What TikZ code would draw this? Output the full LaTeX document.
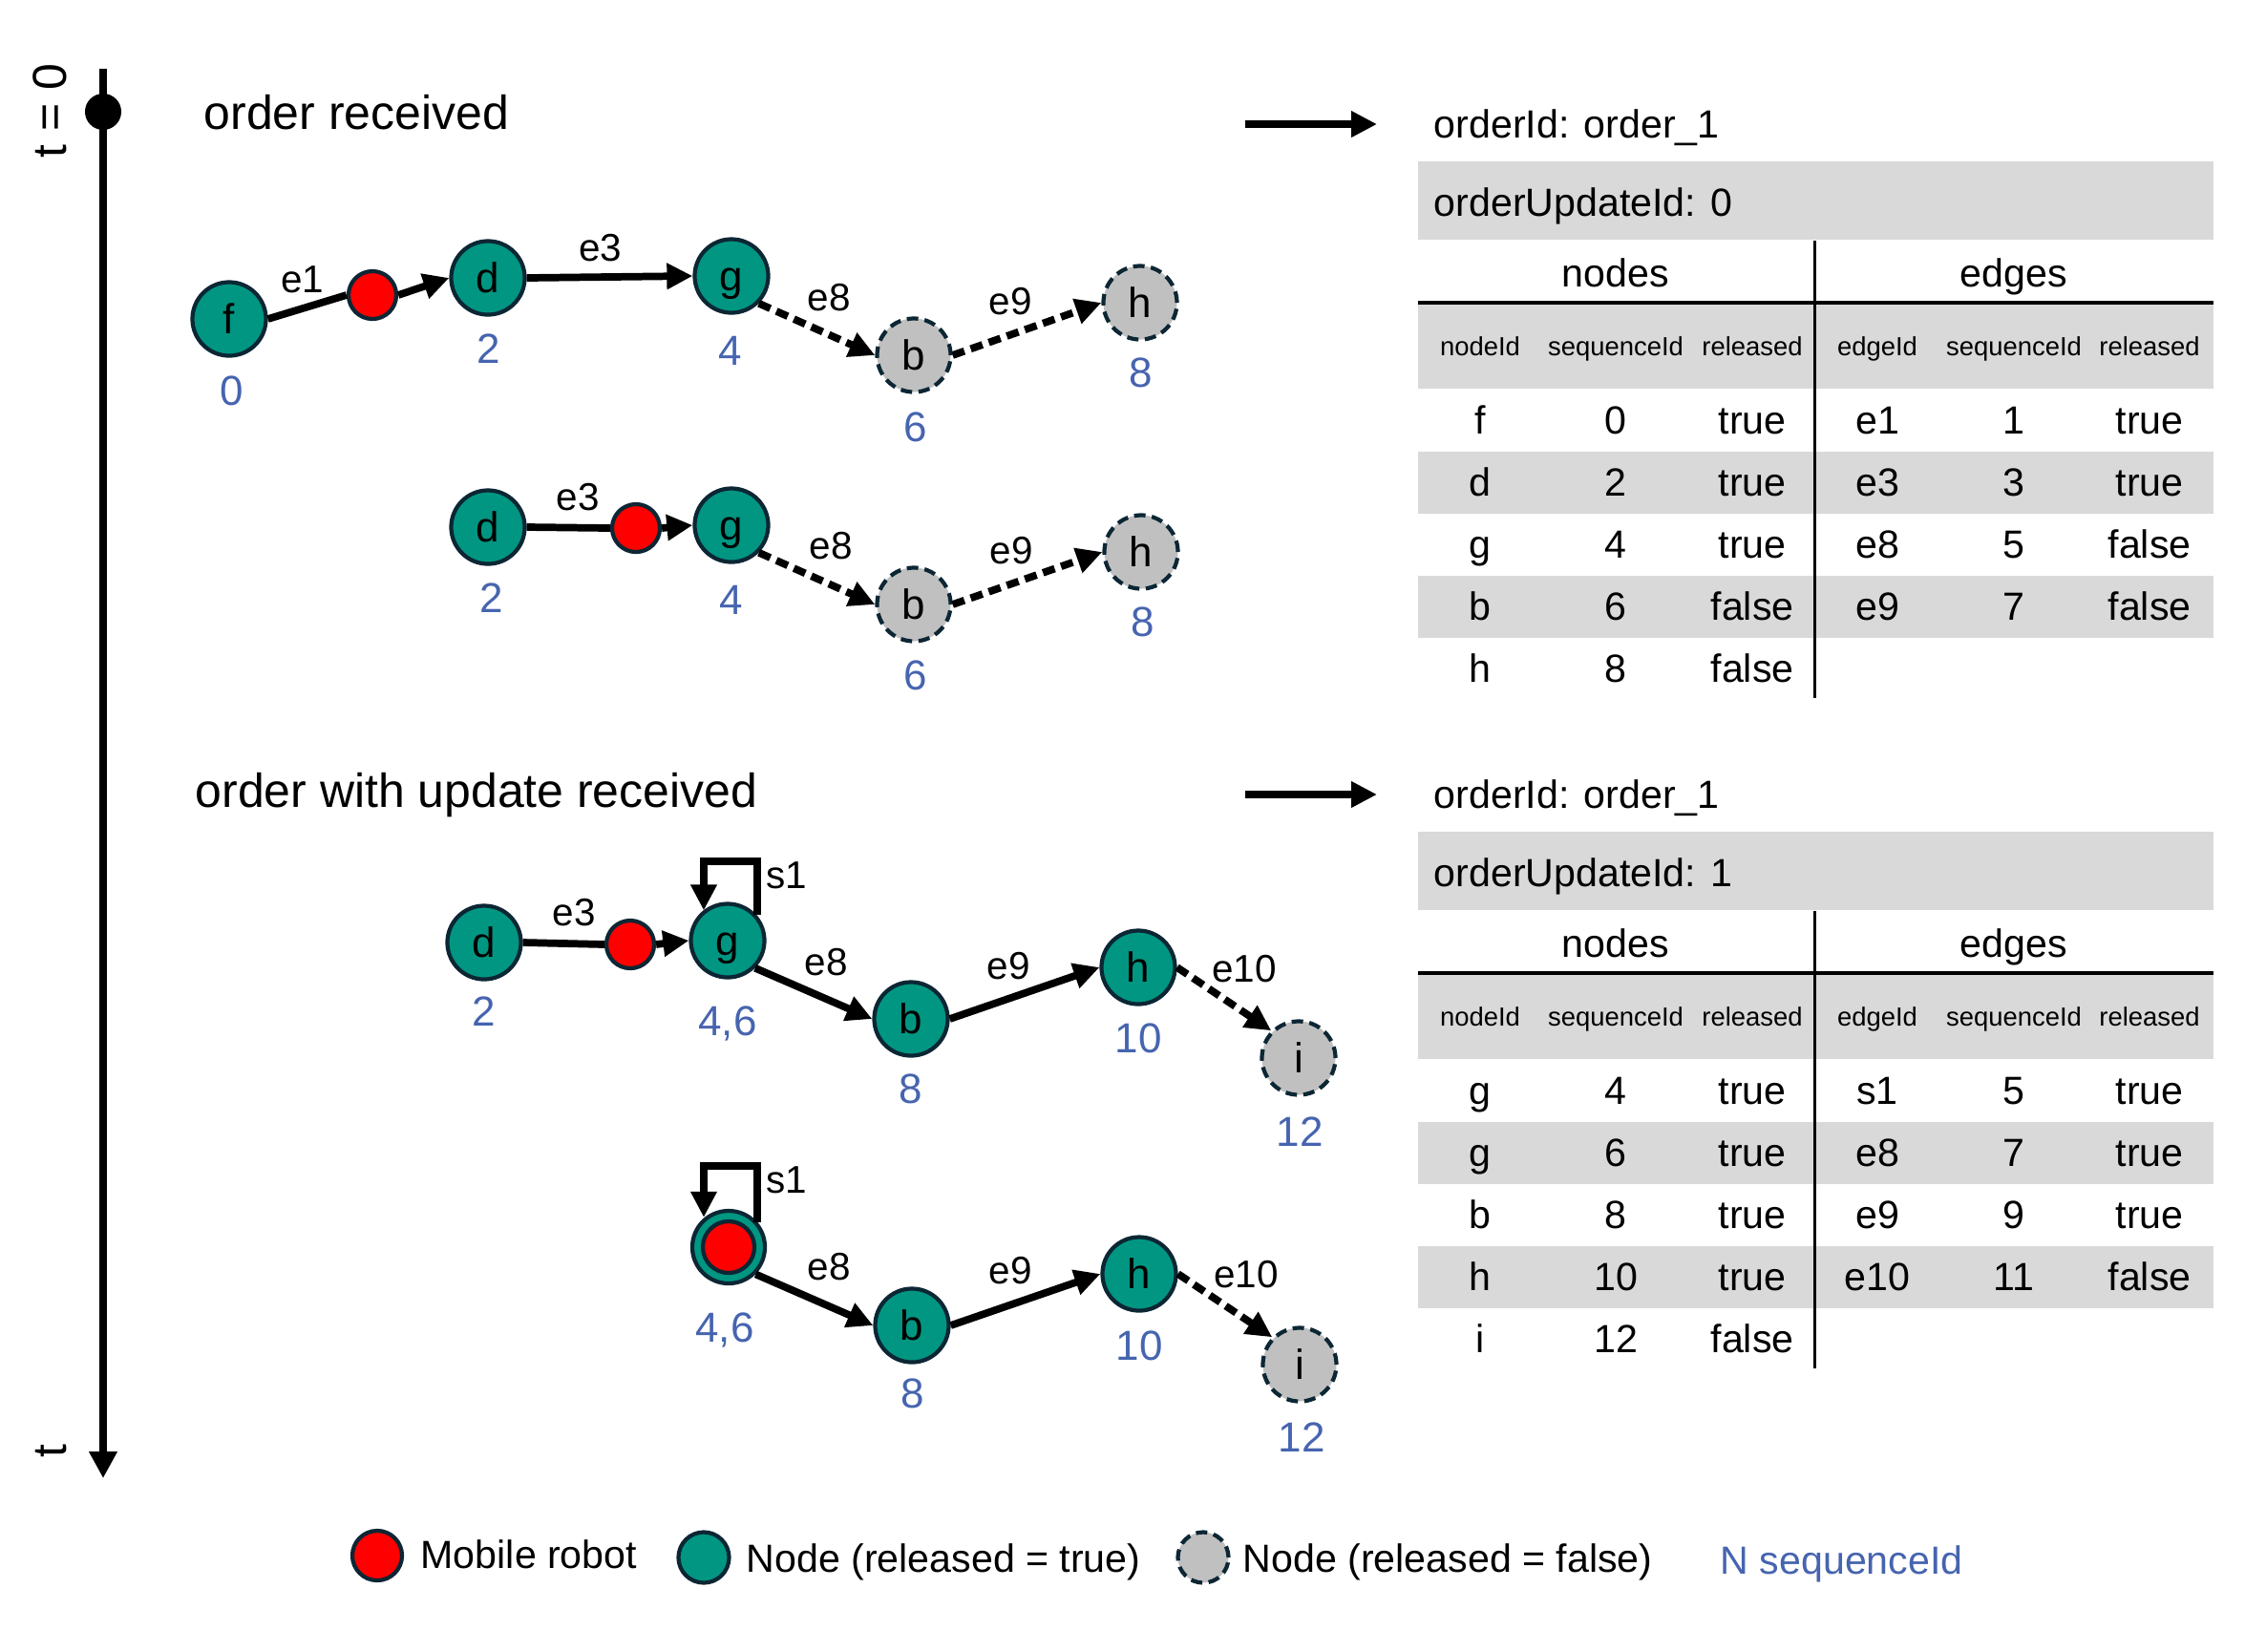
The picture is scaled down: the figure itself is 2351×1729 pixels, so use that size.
\documentclass[tikz,border=0pt]{standalone}
\usepackage{fontspec}
\setmainfont{Liberation Sans}
\usetikzlibrary{arrows.meta,calc}
\definecolor{teal1}{RGB}{0,150,130}
\definecolor{navy1}{RGB}{12,38,52}
\definecolor{gray1}{RGB}{192,192,192}
\definecolor{band}{RGB}{217,217,217}
\definecolor{seqblue}{RGB}{70,100,175}
\definecolor{robotred}{RGB}{255,0,0}
\tikzset{
 txt/.style={inner sep=0pt, text height=8.4pt, text depth=0pt, font=\fontsize{11.7}{14}\selectfont},
 ttl/.style={inner sep=0pt, text height=10.2pt, text depth=0pt, font=\fontsize{14.2}{17}\selectfont, anchor=west},
 num/.style={inner sep=0pt, text height=9pt, text depth=0pt, font=\fontsize{12.5}{15}\selectfont, text=seqblue},
 lbl/.style={inner sep=0pt, text height=8.3pt, text depth=0pt, font=\fontsize{11.5}{14}\selectfont},
 colh/.style={inner sep=0pt, text height=5.6pt, text depth=0pt, font=\fontsize{7.8}{9}\selectfont},
 relnode/.style={circle, draw=navy1, line width=1.2pt, fill=teal1, minimum size=0.77cm, inner sep=0pt, text height=9pt, text depth=0pt, font=\fontsize{12.5}{15}\selectfont},
 unrelnode/.style={relnode, fill=gray1, dash pattern=on 3.4pt off 1.9pt},
 robot/.style={circle, draw=navy1, line width=1.2pt, fill=robotred, minimum size=0.5cm, inner sep=0pt},
 edge/.style={line width=2.2pt, -{Triangle[length=0.27cm,width=0.26cm]}},
 plain/.style={line width=2.2pt},
 dedge/.style={edge, dash pattern=on 3.7pt off 2pt},
 bandfill/.style={fill=band},
}
\begin{document}
\begin{tikzpicture}[x=0.01cm, y=-0.01cm]
\useasboundingbox (0,0) rectangle (2351,1729);

% ---------- timeline ----------
\coordinate (tlTop) at (108,72);
\coordinate (tlEnd) at (108,1548);
\draw[line width=2.3pt, -{Triangle[length=0.28cm,width=0.28cm]}] (tlTop) -- (tlEnd);
\node[circle, fill=black, minimum size=0.38cm, inner sep=0pt] (tdot) at (108,117) {};
\node[ttl, anchor=center, rotate=90] (t0) at (52,116) {t = 0};
\node[ttl, anchor=center, rotate=90] (tend) at (52,1520) {t};

% ---------- titles ----------
\node[ttl] (title1) at (213,118) {order received};
\node[ttl] (title2) at (204,828) {order with update received};

% ---------- graph 1 ----------
\node[relnode] (f1) at (240,334) {f};
\node[robot] (r1) at (390,309) {};
\node[relnode] (d1) at (511,291) {d};
\node[relnode] (g1) at (766,289) {g};
\node[unrelnode] (b1) at (957,372) {b};
\node[unrelnode] (h1) at (1194,317) {h};
\draw[plain] (f1.east) -- (r1.west);
\draw[edge] (r1.east) -- (d1.west);
\draw[edge] (d1.east) -- (g1.west);
\draw[dedge] (g1.south east) -- (b1.west);
\draw[dedge] (b1.east) -- (h1.west);
\node[lbl] (l1e1) at (317,292) {e1};
\node[lbl] (l1e3) at (629,259) {e3};
\node[lbl] (l1e8) at (868,311) {e8};
\node[lbl] (l1e9) at (1058,315) {e9};
\node[num] (n1f) at (243,409) {0};
\node[num] (n1d) at (512,365) {2};
\node[num] (n1g) at (765,367) {4};
\node[num] (n1b) at (959,447) {6};
\node[num] (n1h) at (1195,390) {8};

% ---------- graph 2 ----------
\node[relnode] (d2) at (511,552) {d};
\node[robot] (r2) at (666,553) {};
\node[relnode] (g2) at (766,550) {g};
\node[unrelnode] (b2) at (957,633) {b};
\node[unrelnode] (h2) at (1195,578) {h};
\draw[plain] (d2.east) -- (r2.west);
\draw[edge] (r2.east) -- (g2.west);
\draw[dedge] (g2.south east) -- (b2.west);
\draw[dedge] (b2.east) -- (h2.west);
\node[lbl] (l2e3) at (605,520) {e3};
\node[lbl] (l2e8) at (870,571) {e8};
\node[lbl] (l2e9) at (1059,576) {e9};
\node[num] (n2d) at (515,626) {2};
\node[num] (n2g) at (766,628) {4};
\node[num] (n2b) at (959,707) {6};
\node[num] (n2h) at (1197,651) {8};

% ---------- graph 3 ----------
\node[relnode] (d3) at (507,987) {d};
\node[robot] (r3) at (660,989) {};
\node[relnode] (g3) at (762,985) {g};
\node[relnode] (b3) at (954,1067) {b};
\node[relnode] (h3) at (1192,1013) {h};
\node[unrelnode] (i3) at (1360,1108) {i};
\draw[plain] (d3.east) -- (r3.west);
\draw[edge] (r3.east) -- (g3.west);
\coordinate (g3c) at (737,902);
\draw[edge] (g3.41) |- (g3c) -- (g3c |- g3.129);
\draw[edge] (g3.south east) -- (b3.west);
\draw[edge] (b3.east) -- (h3.west);
\draw[dedge] (h3.east) -- (i3.north west);
\node[lbl] (l3e3) at (601,955) {e3};
\node[lbl] (l3s1) at (824,916) {s1};
\node[lbl] (l3e8) at (865,1007) {e8};
\node[lbl] (l3e9) at (1056,1011) {e9};
\node[lbl] (l3e10) at (1303,1014) {e10};
\node[num] (n3d) at (507,1059) {2};
\node[num] (n3g) at (762,1069) {4,6};
\node[num] (n3b) at (954,1140) {8};
\node[num] (n3h) at (1192,1087) {10};
\node[num] (n3i) at (1361,1185) {12};

% ---------- graph 4 ----------
\node[relnode, minimum size=0.76cm] (g4) at (763,1306) {};
\node[robot, minimum size=0.54cm] (r4) at (763,1306) {};
\node[relnode] (b4) at (955,1388) {b};
\node[relnode] (h4) at (1193,1334) {h};
\node[unrelnode] (i4) at (1361,1429) {i};
\coordinate (g4c) at (737,1221);
\draw[edge] (g4.41) |- (g4c) -- (g4c |- g4.129);
\draw[edge] (g4.south east) -- (b4.west);
\draw[edge] (b4.east) -- (h4.west);
\draw[dedge] (h4.east) -- (i4.north west);
\node[lbl] (l4s1) at (824,1235) {s1};
\node[lbl] (l4e8) at (868,1326) {e8};
\node[lbl] (l4e9) at (1058,1330) {e9};
\node[lbl] (l4e10) at (1305,1334) {e10};
\node[num] (n4g) at (759,1390) {4,6};
\node[num] (n4b) at (956,1459) {8};
\node[num] (n4h) at (1193,1409) {10};
\node[num] (n4i) at (1363,1505) {12};

% ---------- arrows to tables ----------
\coordinate (a1s) at (1304,130);
\coordinate (a1e) at (1442,130);
\draw[edge] (a1s) -- (a1e);
\coordinate (a2s) at (1304,832);
\coordinate (a2e) at (1442,832);
\draw[edge] (a2s) -- (a2e);

% ---------- table A ----------
\fill[bandfill] (1485,169) rectangle (2318,251);
\fill[bandfill] (1485,318) rectangle (2318,407);
\fill[bandfill] (1485,473) rectangle (2318,538);
\fill[bandfill] (1485,603) rectangle (2318,668);
\draw[line width=1.1pt] (1485,317) -- (2318,317);
\draw[line width=0.85pt] (1900,252) -- (1900,731);
\node[txt, anchor=west] (tAid) at (1501,130) {orderId: order\_1};
\node[txt, anchor=west] (tAup) at (1501,212) {orderUpdateId: 0};
\node[txt] (tAnodes) at (1692,286) {nodes};
\node[txt] (tAedges) at (2109,286) {edges};
\node[colh] (tAh1) at (1550,363) {nodeId};
\node[colh] (tAh2) at (1692,363) {sequenceId};
\node[colh] (tAh3) at (1835,363) {released};
\node[colh] (tAh4) at (1966,363) {edgeId};
\node[colh] (tAh5) at (2109,363) {sequenceId};
\node[colh] (tAh6) at (2251,363) {released};
\foreach \i/\va/\vb/\vc/\vd/\ve/\vf in {1/f/0/true/e1/1/true, 2/d/2/true/e3/3/true, 3/g/4/true/e8/5/false, 4/b/6/false/e9/7/false}{
  \node[txt] (tAa\i) at (1550,{375+65*\i}) {\va};
  \node[txt] (tAb\i) at (1692,{375+65*\i}) {\vb};
  \node[txt] (tAc\i) at (1835,{375+65*\i}) {\vc};
  \node[txt] (tAd\i) at (1966,{375+65*\i}) {\vd};
  \node[txt] (tAe\i) at (2109,{375+65*\i}) {\ve};
  \node[txt] (tAf\i) at (2251,{375+65*\i}) {\vf};
}
\node[txt] (tAa5) at (1550,700) {h};
\node[txt] (tAb5) at (1692,700) {8};
\node[txt] (tAc5) at (1835,700) {false};

% ---------- table B ----------
\fill[bandfill] (1485,871) rectangle (2318,953);
\fill[bandfill] (1485,1020) rectangle (2318,1109);
\fill[bandfill] (1485,1175) rectangle (2318,1240);
\fill[bandfill] (1485,1305) rectangle (2318,1370);
\draw[line width=1.1pt] (1485,1019) -- (2318,1019);
\draw[line width=0.85pt] (1900,954) -- (1900,1433);
\node[txt, anchor=west] (tBid) at (1501,832) {orderId: order\_1};
\node[txt, anchor=west] (tBup) at (1501,914) {orderUpdateId: 1};
\node[txt] (tBnodes) at (1692,988) {nodes};
\node[txt] (tBedges) at (2109,988) {edges};
\node[colh] (tBh1) at (1550,1065) {nodeId};
\node[colh] (tBh2) at (1692,1065) {sequenceId};
\node[colh] (tBh3) at (1835,1065) {released};
\node[colh] (tBh4) at (1966,1065) {edgeId};
\node[colh] (tBh5) at (2109,1065) {sequenceId};
\node[colh] (tBh6) at (2251,1065) {released};
\foreach \i/\va/\vb/\vc/\vd/\ve/\vf in {1/g/4/true/s1/5/true, 2/g/6/true/e8/7/true, 3/b/8/true/e9/9/true, 4/h/10/true/e10/11/false}{
  \node[txt] (tBa\i) at (1550,{1077+65*\i}) {\va};
  \node[txt] (tBb\i) at (1692,{1077+65*\i}) {\vb};
  \node[txt] (tBc\i) at (1835,{1077+65*\i}) {\vc};
  \node[txt] (tBd\i) at (1966,{1077+65*\i}) {\vd};
  \node[txt] (tBe\i) at (2109,{1077+65*\i}) {\ve};
  \node[txt] (tBf\i) at (2251,{1077+65*\i}) {\vf};
}
\node[txt] (tBa5) at (1550,1402) {i};
\node[txt] (tBb5) at (1692,1402) {12};
\node[txt] (tBc5) at (1835,1402) {false};

% ---------- legend ----------
\node[robot, minimum size=0.52cm] (lgR) at (395,1629) {};
\node[txt, anchor=west] (lgRt) at (440,1628) {Mobile robot};
\node[relnode, minimum size=0.53cm] (lgN) at (737,1631) {};
\node[txt, anchor=west] (lgNt) at (781,1632) {Node (released = true)};
\node[unrelnode, minimum size=0.53cm] (lgU) at (1260,1631) {};
\node[txt, anchor=west] (lgUt) at (1301,1632) {Node (released = false)};
\node[txt, anchor=west, text=seqblue] (lgS) at (1801,1634) {N sequenceId};
\end{tikzpicture}
\end{document}
